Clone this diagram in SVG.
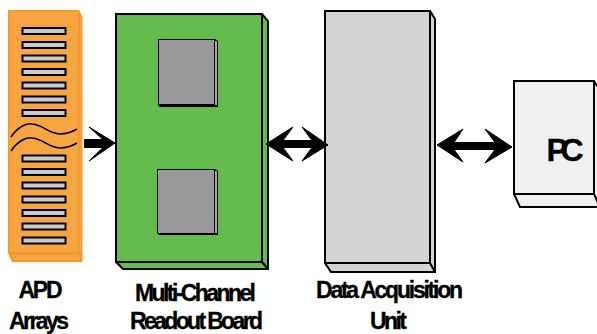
<svg xmlns="http://www.w3.org/2000/svg" width="597" height="334" viewBox="0 0 597 334">
<style>
.lbl{font-family:"Liberation Sans",Arial,sans-serif;font-weight:700;font-size:23px;fill:#000;stroke:#000;stroke-width:.3;text-anchor:middle}
.bar{fill:#ccc;stroke:#000;stroke-width:2}
.wave{fill:none;stroke:#000;stroke-width:1.5}
.bd{stroke:#000;stroke-width:2;stroke-linejoin:miter}
.ar{fill:#000;stroke:#000;stroke-width:1;stroke-linejoin:miter}
</style>
<rect width="597" height="334" fill="#fff"/>
<g id="apd-arrays">
<path d="M8 10H79L82.500 17V262H12L8 253Z" fill="#f5982c"/>
<path d="M9.500 11.500H78V252H9.500Z" fill="#f7a541"/>
<path d="M80 18L81.500 20V252H79.500Z" fill="#f7a541"/>
<path d="M12 255L14 260H80L78.500 255Z" fill="#f7a541"/>
<g class="bars">
<rect class="bar" x="22.500" y="28" width="43" height="6"/>
<rect class="bar" x="22.500" y="42" width="43" height="6"/>
<rect class="bar" x="22.500" y="55.500" width="43" height="6"/>
<rect class="bar" x="22.500" y="69" width="43" height="6"/>
<rect class="bar" x="22.500" y="82.500" width="43" height="6"/>
<rect class="bar" x="22.500" y="96.500" width="43" height="6"/>
<rect class="bar" x="22.500" y="110" width="43" height="6"/>
<rect class="bar" x="22.500" y="155.500" width="43" height="6"/>
<rect class="bar" x="22.500" y="169" width="43" height="6"/>
<rect class="bar" x="22.500" y="182.500" width="43" height="6"/>
<rect class="bar" x="22.500" y="196.500" width="43" height="6"/>
<rect class="bar" x="22.500" y="210" width="43" height="6"/>
<rect class="bar" x="22.500" y="223.500" width="43" height="6"/>
<rect class="bar" x="22.500" y="237.500" width="43" height="6"/>
</g>
<path class="wave" d="M11 137C17 128 25 123 32 124C44 125 47 133 60 134C67 134 72 132 77 129"/>
<path class="wave" d="M11 151C17 142 25 137 32 138C44 139 47 147 60 148C67 148 72 146 77 143"/>
</g>
<g id="readout-board">
<path class="bd" d="M116 14H262L268 21V269H123L116 262Z" fill="#66bb4d"/>
<path class="bd" d="M116 14H262V262H116ZM262 262L268 269" fill="#66bb4d"/>
<g id="chip-1">
<path d="M158 39H215L218 41V107H160L158 105Z" fill="#000"/>
<rect x="159" y="40" width="55" height="64" fill="#999"/>
<rect x="215" y="41" width="2" height="64" fill="#aaa"/>
</g>
<g id="chip-2">
<path d="M157 169H215L218 171V235H159L157 233Z" fill="#000"/>
<rect x="158" y="170" width="56" height="63" fill="#999"/>
<rect x="215" y="171" width="2" height="62" fill="#aaa"/>
</g>
</g>
<g id="daq-unit">
<path class="bd" d="M325 11H430L435 19V272H331L325 263Z" fill="#d3d3d3"/>
<path class="bd" d="M325 11H430V263H325ZM430 263L435 272" fill="#d3d3d3"/>
</g>
<g id="pc">
<path class="bd" d="M514 81H594L602 94V207H520L514 194Z" fill="#f0f0f0"/>
<path class="bd" d="M514 81H594V194H514ZM594 194L600 207" fill="#f0f0f0"/>
<text x="565" y="161" font-family="'Liberation Sans',Arial,sans-serif" font-weight="700" font-size="32" stroke="#000" stroke-width=".3" text-anchor="middle" textLength="37" lengthAdjust="spacing">PC</text>
</g>
<g id="connectors">
<path class="ar" d="M84.500 139.500H103L89 127L115 143L89 161L103 147.500H84.500Z"/>
<path class="ar" d="M266 144L293 127L283 140.500H312L302 127L328 145L302 161L312 147.500H283L293 161Z"/>
<path class="ar" d="M437 145L463 129L454 142.500H495L485 129L512 147L485 163L495 149.500H454L463 162Z"/>
</g>
<g id="labels">
<text class="lbl" x="40.500" y="298" textLength="44" lengthAdjust="spacing">APD</text>
<text class="lbl" x="39" y="329" textLength="60" lengthAdjust="spacing">Arrays</text>
<text class="lbl" x="195.500" y="301" textLength="121" lengthAdjust="spacing">Multi-Channel</text>
<text class="lbl" x="196.500" y="329" textLength="133" lengthAdjust="spacing">Readout Board</text>
<text class="lbl" x="389.500" y="298" textLength="147" lengthAdjust="spacing">Data Acquisition</text>
<text class="lbl" x="388.500" y="329" textLength="37" lengthAdjust="spacing">Unit</text>
</g>
</svg>
